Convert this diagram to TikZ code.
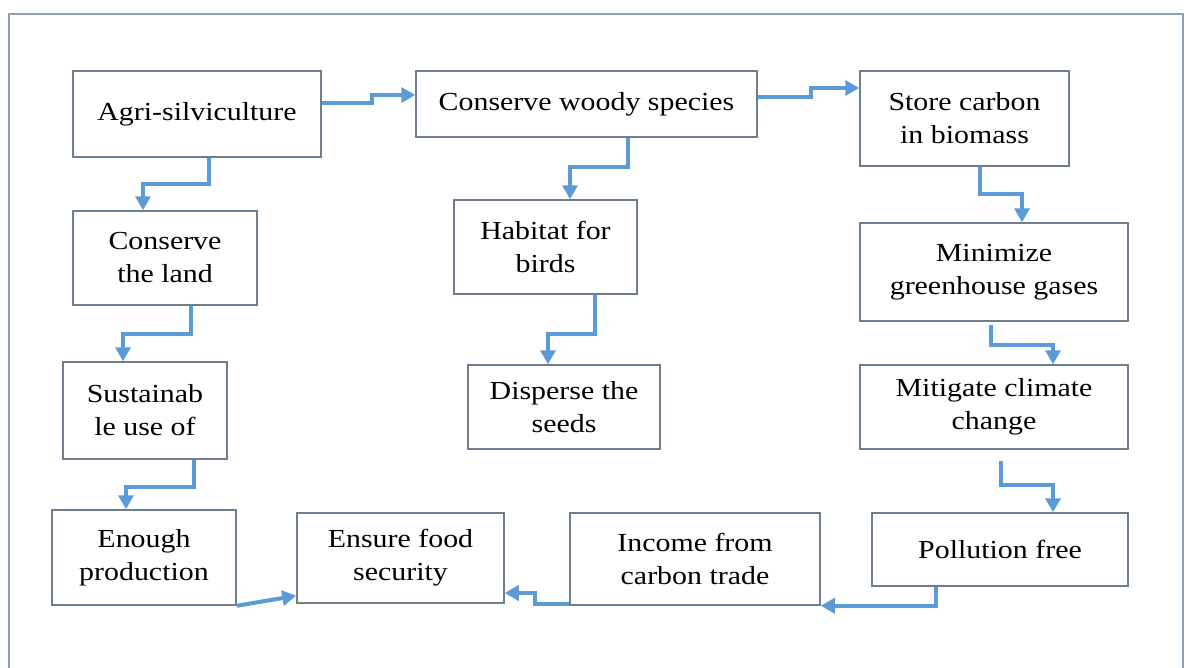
\documentclass[tikz,border=0pt]{standalone}
\usepackage{fontspec}
\setmainfont{Liberation Serif}[FakeStretch=1.15]
\usetikzlibrary{arrows.meta,calc}

\definecolor{boxgray}{HTML}{6E7E8E}
\definecolor{framegray}{HTML}{8FA0B0}
\definecolor{flowblue}{HTML}{5B9BD5}

\tikzset{
  box/.style={draw=boxgray, line width=1.5pt, align=center, inner sep=0pt,
    font=\fontsize{26}{33}\selectfont},
  flow/.style={draw=flowblue, line width=4pt, line join=miter,
    -{Triangle[length=14pt,width=15pt]}},
}

\begin{document}
\begin{tikzpicture}[x=1pt,y=-1pt]
\useasboundingbox (0,0) rectangle (1188,667);
\fill[white] (0,0) rectangle (1188,667);
\draw[framegray, line width=1.5pt] (9,700) -- (9,14) -- (1183,14) -- (1183,700);

% top row
\node[box, minimum width=248, minimum height=86] (agri) at (197,114) {Agri-silviculture};
\node[box, minimum width=341, minimum height=66] (woody) at (586.5,104) {Conserve woody species};
\node[box, minimum width=209, minimum height=95] (store) at (964.5,118.5) {Store carbon\\in biomass};

% left column
\node[box, minimum width=184, minimum height=94] (land) at (165,258) {Conserve\\the land};
\node[box, minimum width=164, minimum height=97] (sustain) at (145,410.5) {Sustainab\\le use of};
\node[box, minimum width=184, minimum height=95] (enough) at (144,557.5) {Enough\\production};

% middle column
\node[box, minimum width=183, minimum height=94] (habitat) at (545.5,247) {Habitat for\\birds};
\node[box, minimum width=192, minimum height=84] (disperse) at (564,407) {Disperse the\\seeds};

% right column
\node[box, minimum width=268, minimum height=98] (minimize) at (994,272) {Minimize\\greenhouse gases};
\node[box, minimum width=268, minimum height=84] (mitigate) at (994,407) {Mitigate climate\\change};
\node[box, minimum width=256, minimum height=73] (pollution) at (1000,549.5) {Pollution free};

% bottom row
\node[box, minimum width=207, minimum height=90] (food) at (400.5,558) {Ensure food\\security};
\node[box, minimum width=250, minimum height=92] (income) at (695,559) {Income from\\carbon trade};

% connectors
\draw[flow] ($(agri.east)+(0,-11)$) -- ++(50,0) |- ($(woody.west)+(0,-9)$);
\draw[flow] ($(woody.east)+(0,-7)$) -- ++(53,0) |- ($(store.west)+(0,-30.5)$);
\draw[flow] ($(agri.south)+(12,0)$) -- ++(0,26) -| ($(land.north)+(-22,0)$);
\draw[flow] ($(land.south)+(26,0)$) -- ++(0,28) -| ($(sustain.north)+(-22,0)$);
\draw[flow] ($(sustain.south)+(49,0)$) -- ++(0,27) -| ($(enough.north)+(-18,0)$);
\draw[flow] (enough.south east) -- ($(food.south west)+(0,-8)$);
\draw[flow] ($(woody.south)+(41.5,0)$) -- ++(0,29) -| ($(habitat.north)+(24.5,0)$);
\draw[flow] ($(habitat.south)+(49.5,0)$) -- ++(0,39) -| ($(disperse.north)+(-16,0)$);
\draw[flow] ($(store.south)+(15.5,0)$) -- ++(0,27) -| ($(minimize.north)+(28,0)$);
\draw[flow] ($(minimize.south)+(-3,3)$) -- ++(0,20) -| ($(mitigate.north)+(59,0)$);
\draw[flow] ($(mitigate.south)+(7,11)$) -- ++(0,24) -| ($(pollution.north)+(53,0)$);
\draw[flow] ($(pollution.south)+(-64,0)$) |- (income.south east);
\draw[flow] ($(income.south west)+(0,-2)$) -- ++(-34,0) |- ($(food.east)+(0,35)$);
\end{tikzpicture}
\end{document}
